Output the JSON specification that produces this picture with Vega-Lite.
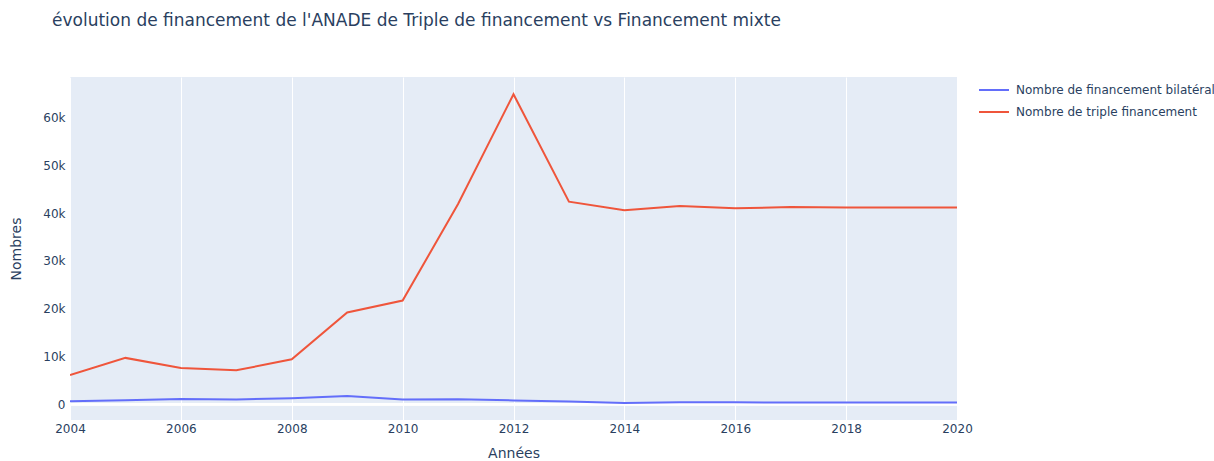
{
  "$schema": "https://vega.github.io/schema/vega-lite/v6.json",
  "width": 887,
  "height": 343,
  "autosize": {"type": "none"},
  "padding": {"left": 70, "top": 77, "right": 257, "bottom": 41},
  "background": "white",
  "config": {
    "font": "DejaVu Sans",
    "view": {"fill": "#e5ecf6", "stroke": null},
    "axis": {"labelColor": "#2a3f5f", "titleColor": "#2a3f5f", "labelFontSize": 12, "titleFontSize": 14, "titleFontWeight": "normal", "gridColor": "white", "gridWidth": 1, "gridOpacity": 1, "domain": false, "ticks": false, "labelFont": "DejaVu Sans", "titleFont": "DejaVu Sans"},
    "legend": {"labelColor": "#2a3f5f", "labelFontSize": 12, "labelFont": "DejaVu Sans"}
  },
  "title": {
    "text": "évolution de financement de l'ANADE de Triple de financement vs Financement mixte",
    "anchor": "start",
    "frame": "group",
    "dx": -18,
    "offset": 31,
    "fontSize": 17,
    "fontWeight": "normal",
    "color": "#2a3f5f",
    "font": "DejaVu Sans",
    "baseline": "alphabetic"
  },
  "data": {
    "values": [
      {"annee": 2004, "serie": "Nombre de financement bilatéral", "valeur": 600},
      {"annee": 2005, "serie": "Nombre de financement bilatéral", "valeur": 850},
      {"annee": 2006, "serie": "Nombre de financement bilatéral", "valeur": 1100},
      {"annee": 2007, "serie": "Nombre de financement bilatéral", "valeur": 1000},
      {"annee": 2008, "serie": "Nombre de financement bilatéral", "valeur": 1250},
      {"annee": 2009, "serie": "Nombre de financement bilatéral", "valeur": 1700},
      {"annee": 2010, "serie": "Nombre de financement bilatéral", "valeur": 1000},
      {"annee": 2011, "serie": "Nombre de financement bilatéral", "valeur": 1050},
      {"annee": 2012, "serie": "Nombre de financement bilatéral", "valeur": 800},
      {"annee": 2013, "serie": "Nombre de financement bilatéral", "valeur": 550},
      {"annee": 2014, "serie": "Nombre de financement bilatéral", "valeur": 280},
      {"annee": 2015, "serie": "Nombre de financement bilatéral", "valeur": 400},
      {"annee": 2016, "serie": "Nombre de financement bilatéral", "valeur": 400},
      {"annee": 2017, "serie": "Nombre de financement bilatéral", "valeur": 370},
      {"annee": 2018, "serie": "Nombre de financement bilatéral", "valeur": 360},
      {"annee": 2019, "serie": "Nombre de financement bilatéral", "valeur": 360},
      {"annee": 2020, "serie": "Nombre de financement bilatéral", "valeur": 360},
      {"annee": 2004, "serie": "Nombre de triple financement", "valeur": 6100},
      {"annee": 2005, "serie": "Nombre de triple financement", "valeur": 9700},
      {"annee": 2006, "serie": "Nombre de triple financement", "valeur": 7600},
      {"annee": 2007, "serie": "Nombre de triple financement", "valeur": 7100},
      {"annee": 2008, "serie": "Nombre de triple financement", "valeur": 9400},
      {"annee": 2009, "serie": "Nombre de triple financement", "valeur": 19200},
      {"annee": 2010, "serie": "Nombre de triple financement", "valeur": 21700},
      {"annee": 2011, "serie": "Nombre de triple financement", "valeur": 41900},
      {"annee": 2012, "serie": "Nombre de triple financement", "valeur": 64900},
      {"annee": 2013, "serie": "Nombre de triple financement", "valeur": 42400},
      {"annee": 2014, "serie": "Nombre de triple financement", "valeur": 40600},
      {"annee": 2015, "serie": "Nombre de triple financement", "valeur": 41500},
      {"annee": 2016, "serie": "Nombre de triple financement", "valeur": 41000},
      {"annee": 2017, "serie": "Nombre de triple financement", "valeur": 41300},
      {"annee": 2018, "serie": "Nombre de triple financement", "valeur": 41200},
      {"annee": 2019, "serie": "Nombre de triple financement", "valeur": 41200},
      {"annee": 2020, "serie": "Nombre de triple financement", "valeur": 41200}
    ]
  },
  "layer": [
    {
      "mark": {"type": "rule", "color": "white", "strokeWidth": 2},
      "encoding": {"y": {"datum": 0, "type": "quantitative"}}
    },
    {
      "mark": {"type": "line", "strokeWidth": 2, "clip": true},
      "encoding": {
        "x": {
          "field": "annee", "type": "quantitative",
          "scale": {"domain": [2004, 2020], "nice": false, "zero": false},
          "axis": {"title": "Années", "values": [2004, 2006, 2008, 2010, 2012, 2014, 2016, 2018, 2020], "format": "d", "labelPadding": 3, "titlePadding": 12, "labelFlush": false}
        },
        "y": {
          "field": "valeur", "type": "quantitative",
          "scale": {"domain": [-3300, 68500], "nice": false, "zero": false},
          "axis": {"title": "Nombres", "values": [0, 10000, 20000, 30000, 40000, 50000, 60000], "labelExpr": "datum.value == 0 ? '0' : (datum.value / 1000) + 'k'", "labelPadding": 5, "titlePadding": 19}
        },
        "color": {
          "field": "serie", "type": "nominal",
          "scale": {"domain": ["Nombre de financement bilatéral", "Nombre de triple financement"], "range": ["#636efa", "#EF553B"]},
          "legend": {"title": null, "orient": "none", "legendX": 908, "legendY": -3, "symbolType": "stroke", "symbolSize": 900, "symbolStrokeWidth": 2, "rowPadding": -12, "labelOffset": 6, "labelLimit": 400}
        }
      }
    }
  ]
}
